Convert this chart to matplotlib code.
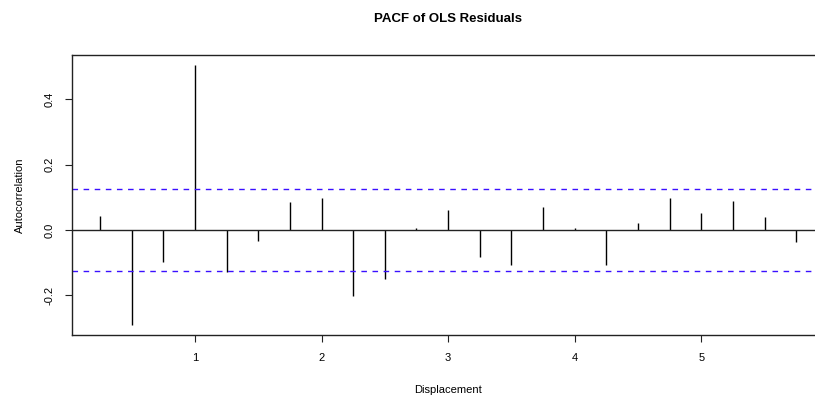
import matplotlib
matplotlib.use("Agg")
import matplotlib.pyplot as plt
import numpy as np

plt.rcParams['font.family'] = ['Liberation Sans', 'DejaVu Sans']

lags = [0.25, 0.5, 0.75, 1.0, 1.25, 1.5, 1.75, 2.0, 2.25, 2.5, 2.75, 3.0,
        3.25, 3.5, 3.75, 4.0, 4.25, 4.5, 4.75, 5.0, 5.25, 5.5, 5.75]
pacf = [0.043, -0.289, -0.099, 0.505, -0.127, -0.033, 0.085, 0.098, -0.201,
        -0.150, 0.005, 0.062, -0.082, -0.106, 0.070, 0.005, -0.106, 0.022,
        0.098, 0.052, 0.088, 0.041, -0.036]
conf = 0.1266
xticks = [1, 2, 3, 4, 5]
yticks = [-0.2, 0.0, 0.2, 0.4]
yticklabels = ["-0.2", "0.0", "0.2", "0.4"]

W, H = 815, 404
fig = plt.figure(figsize=(W / 100, H / 100), dpi=100)
left, right, top, bottom = 72.3, 824.0, 54.7, 335.0
ax = fig.add_axes([left / W, (H - bottom) / H, (right - left) / W, (bottom - top) / H])

ax.vlines(lags, 0, pacf, color='black', lw=1.0)
ax.axhline(0, color='#222222', lw=1.0)
for c in (conf, -conf):
    ax.axhline(c, color='#3a10ff', lw=1.0, dashes=(4, 4))

ax.set_xlim(0.031, 5.97)
ax.set_ylim(-0.321, 0.537)
ax.set_xticks(xticks)
ax.set_xticklabels([str(t) for t in xticks])
ax.set_yticks(yticks)
ax.set_yticklabels(yticklabels, rotation=90, va='center')
ax.tick_params(axis='both', length=5, width=0.8, labelsize=8, color='#222222', pad=8)
for s in ax.spines.values():
    s.set_color('#222222')
    s.set_linewidth(1.0)

ax.set_xlabel('Displacement', fontsize=8, labelpad=16)
ax.set_ylabel('Autocorrelation', fontsize=8, labelpad=14)
fig.text(448 / W, 1 - 19 / H, 'PACF of OLS Residuals', ha='center', va='center',
         fontsize=9.5, fontweight='bold')

fig.savefig('out.png', dpi=100)
